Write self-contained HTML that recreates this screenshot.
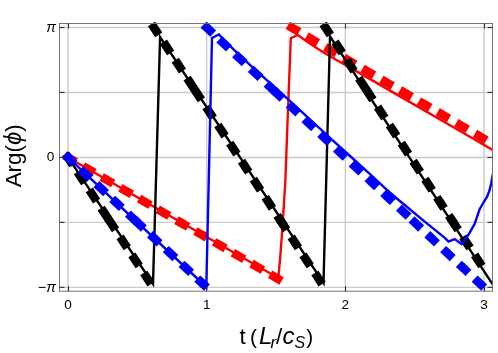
<!DOCTYPE html>
<html><head><meta charset="utf-8"><title>Arg(phi) vs t</title>
<style>
html,body{margin:0;padding:0;background:#fff;}
body{width:498px;height:353px;overflow:hidden;font-family:"Liberation Sans",sans-serif;}
svg{display:block;will-change:transform;}
text{font-family:"Liberation Sans",sans-serif;fill:#000;}
.tl{font-size:13.6px;}
</style></head><body>
<svg width="498" height="353" viewBox="0 0 498 353">
<rect x="0" y="0" width="498" height="353" fill="#fff"/>
<defs><clipPath id="c"><rect x="58.0" y="22.0" width="435.0" height="269.7"/></clipPath></defs>
<g stroke="#cbcbcb" stroke-width="1.4">
<line x1="68.00" y1="23.5" x2="68.00" y2="291.2"/>
<line x1="206.67" y1="23.5" x2="206.67" y2="291.2"/>
<line x1="345.34" y1="23.5" x2="345.34" y2="291.2"/>
<line x1="484.01" y1="23.5" x2="484.01" y2="291.2"/>
<line x1="59.5" y1="287.39" x2="492.5" y2="287.39"/>
<line x1="59.5" y1="222.42" x2="492.5" y2="222.42"/>
<line x1="59.5" y1="157.45" x2="492.5" y2="157.45"/>
<line x1="59.5" y1="92.48" x2="492.5" y2="92.48"/>
<line x1="59.5" y1="27.51" x2="492.5" y2="27.51"/>
</g>
<g clip-path="url(#c)">
<polyline points="68.00,157.45 180.40,222.42" fill="none" stroke="#ff0000" stroke-width="8.6" stroke-dasharray="4.6 17.0" stroke-linecap="square"/>
<polyline points="180.40,222.42 289.80,285.65" fill="none" stroke="#ff0000" stroke-width="8.6" stroke-dasharray="4.6 17.0" stroke-linecap="square"/>
<polyline points="291.50,27.51 403.90,92.48" fill="none" stroke="#ff0000" stroke-width="8.6" stroke-dasharray="4.6 17.0" stroke-linecap="square"/>
<polyline points="403.90,92.48 484.01,138.78" fill="none" stroke="#ff0000" stroke-width="8.6" stroke-dasharray="4.6 17.0" stroke-linecap="square"/>
<polyline points="68.00,157.45 278.30,278.00 280.00,260.00 282.30,229.60 285.40,180.00 287.60,120.00 290.80,38.20 297.70,35.00 304.00,39.40 310.50,44.00 317.00,48.30 323.20,52.20 330.00,56.20 336.00,59.70 344.90,64.60 400.00,96.40 450.00,125.20 492.70,150.00 499.00,153.70" fill="none" stroke="#ff0000" stroke-width="2.4" stroke-linejoin="miter"/>
<polyline points="68.00,157.45 110.60,222.42" fill="none" stroke="#000" stroke-width="8.6" stroke-dasharray="4.6 17.0" stroke-linecap="square"/>
<polyline points="110.60,222.42 153.20,287.39" fill="none" stroke="#000" stroke-width="8.6" stroke-dasharray="4.6 17.0" stroke-linecap="square"/>
<polyline points="153.90,27.51 196.50,92.48" fill="none" stroke="#000" stroke-width="8.6" stroke-dasharray="4.6 17.0" stroke-linecap="square"/>
<polyline points="196.50,92.48 281.71,222.42" fill="none" stroke="#000" stroke-width="8.6" stroke-dasharray="4.6 17.0" stroke-linecap="square"/>
<polyline points="281.71,222.42 324.31,287.39" fill="none" stroke="#000" stroke-width="8.6" stroke-dasharray="4.6 17.0" stroke-linecap="square"/>
<polyline points="325.50,27.51 368.10,92.48" fill="none" stroke="#000" stroke-width="8.6" stroke-dasharray="4.6 17.0" stroke-linecap="square"/>
<polyline points="368.10,92.48 453.31,222.42" fill="none" stroke="#000" stroke-width="8.6" stroke-dasharray="4.6 17.0" stroke-linecap="square"/>
<polyline points="453.31,222.42 484.01,269.24" fill="none" stroke="#000" stroke-width="8.6" stroke-dasharray="4.6 17.0" stroke-linecap="square"/>
<polyline points="68.00,157.45 153.00,284.00 160.10,37.10 323.50,283.00 330.00,36.30 491.84,283.10 499.00,294.03" fill="none" stroke="#000" stroke-width="2.4" stroke-linejoin="miter"/>
<polyline points="68.00,157.45 137.34,222.42" fill="none" stroke="#0000ff" stroke-width="8.6" stroke-dasharray="4.6 17.0" stroke-linecap="square"/>
<polyline points="137.34,222.42 206.67,287.39" fill="none" stroke="#0000ff" stroke-width="8.6" stroke-dasharray="4.6 17.0" stroke-linecap="square"/>
<polyline points="206.67,27.51 276.01,92.48" fill="none" stroke="#0000ff" stroke-width="8.6" stroke-dasharray="4.6 17.0" stroke-linecap="square"/>
<polyline points="276.01,92.48 414.68,222.42" fill="none" stroke="#0000ff" stroke-width="8.6" stroke-dasharray="4.6 17.0" stroke-linecap="square"/>
<polyline points="414.68,222.42 484.02,287.39" fill="none" stroke="#0000ff" stroke-width="8.6" stroke-dasharray="4.6 17.0" stroke-linecap="square"/>
<polyline points="68.00,157.45 206.30,287.00 212.00,37.90 218.80,34.50 234.00,49.80 251.00,65.90 290.10,101.10 330.00,137.90 350.00,156.00 370.00,174.20 385.00,188.20 395.00,197.00 405.00,205.20 425.00,221.80 444.50,237.60 448.50,241.60 454.60,239.10 461.60,244.10 468.60,234.50 474.80,223.50 479.50,209.50 483.50,202.50 487.00,197.00 489.50,190.50 491.20,183.50 492.60,176.00 494.50,165.00" fill="none" stroke="#0000ff" stroke-width="2.4" stroke-linejoin="miter"/>
</g>
<rect x="59.5" y="23.5" width="433.0" height="267.7" fill="none" stroke="#737373" stroke-width="1"/>
<g stroke="#333" stroke-width="1.1">
<line x1="68.50" y1="291.2" x2="68.50" y2="286.2"/>
<line x1="68.50" y1="23.5" x2="68.50" y2="28.5"/>
<line x1="206.50" y1="291.2" x2="206.50" y2="286.2"/>
<line x1="206.50" y1="23.5" x2="206.50" y2="28.5"/>
<line x1="345.50" y1="291.2" x2="345.50" y2="286.2"/>
<line x1="345.50" y1="23.5" x2="345.50" y2="28.5"/>
<line x1="484.50" y1="291.2" x2="484.50" y2="286.2"/>
<line x1="484.50" y1="23.5" x2="484.50" y2="28.5"/>
<line x1="59.5" y1="287.39" x2="64.5" y2="287.39"/>
<line x1="492.5" y1="287.39" x2="487.5" y2="287.39"/>
<line x1="59.5" y1="222.42" x2="64.5" y2="222.42"/>
<line x1="492.5" y1="222.42" x2="487.5" y2="222.42"/>
<line x1="59.5" y1="157.45" x2="64.5" y2="157.45"/>
<line x1="492.5" y1="157.45" x2="487.5" y2="157.45"/>
<line x1="59.5" y1="92.48" x2="64.5" y2="92.48"/>
<line x1="492.5" y1="92.48" x2="487.5" y2="92.48"/>
<line x1="59.5" y1="27.51" x2="64.5" y2="27.51"/>
<line x1="492.5" y1="27.51" x2="487.5" y2="27.51"/>
</g>
<g class="tl">
<text x="68.0" y="309.1" text-anchor="middle">0</text>
<text x="206.67" y="309.1" text-anchor="middle">1</text>
<text x="345.34" y="309.1" text-anchor="middle">2</text>
<text x="484.01" y="309.1" text-anchor="middle">3</text>
<text x="54.3" y="161.35" text-anchor="end">0</text>
<text x="56.0" y="31.713727847526155" text-anchor="end" font-style="italic" font-size="14.5">π</text>
<text x="56.0" y="291.5862721524738" text-anchor="end" font-size="14.5">−<tspan font-style="italic">π</tspan></text>
</g>
<text transform="translate(20.5,155.8) rotate(-90)" text-anchor="middle" font-size="22.4">Arg(<tspan font-style="italic" font-size="24">ϕ</tspan>)</text>
<g id="xl" font-size="22.4"><text x="239.5" y="344">t</text><text x="250.0" y="344.3" font-size="20.8">(</text><text x="259.0" y="344" font-style="italic" font-size="24">L</text><text x="270.4" y="348.2" font-style="italic" font-size="17">r</text><text x="276.0" y="344">/</text><text x="282.6" y="344" font-style="italic" font-size="24">c</text><text x="294.6" y="347.8" font-style="italic" font-size="16">S</text><text x="306.2" y="344.3" font-size="20.8">)</text></g>
</svg>
</body></html>
